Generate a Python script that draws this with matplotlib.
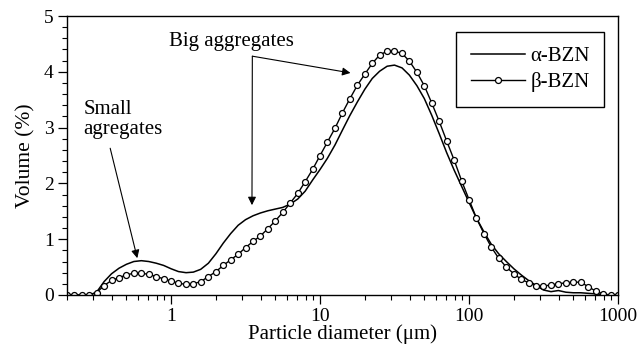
import matplotlib
matplotlib.use("Agg")
import matplotlib.pyplot as plt
from matplotlib.ticker import FixedLocator, MultipleLocator, LogLocator, NullFormatter

plt.rcParams['font.family'] = ['Liberation Serif', 'DejaVu Serif']
plt.rcParams['mathtext.fontset'] = 'stix'

# Particle diameter grid (um)
diameter = [0.200, 0.224, 0.251, 0.282, 0.316, 0.355, 0.398, 0.447, 0.501, 0.562,
            0.631, 0.708, 0.794, 0.891, 1.00, 1.12, 1.26, 1.41, 1.58, 1.78,
            2.00, 2.24, 2.51, 2.82, 3.16, 3.55, 3.98, 4.47, 5.01, 5.62,
            6.31, 7.08, 7.94, 8.91, 10.0, 11.2, 12.6, 14.1, 15.8, 17.8,
            20.0, 22.4, 25.1, 28.2, 31.6, 35.5, 39.8, 44.7, 50.1, 56.2,
            63.1, 70.8, 79.4, 89.1, 100, 112, 126, 141, 158, 178,
            200, 224, 251, 282, 316, 355, 398, 447, 501, 562,
            631, 708, 794, 891, 1000]

alpha_bzn = [0, 0, 0, 0, 0.05, 0.24, 0.38, 0.48, 0.55, 0.60,
             0.615, 0.60, 0.57, 0.53, 0.47, 0.42, 0.40, 0.41, 0.46, 0.57,
             0.74, 0.93, 1.10, 1.25, 1.35, 1.42, 1.47, 1.51, 1.54, 1.57,
             1.63, 1.72, 1.86, 2.06, 2.25, 2.45, 2.69, 2.95, 3.21, 3.46,
             3.69, 3.88, 4.01, 4.10, 4.12, 4.07, 3.94, 3.75, 3.52, 3.22,
             2.89, 2.55, 2.24, 1.95, 1.66, 1.38, 1.13, 0.91, 0.74, 0.60,
             0.47, 0.36, 0.26, 0.17, 0.09, 0.06, 0.08, 0.05, 0.04, 0.04,
             0.03, 0.02, 0.01, 0.0, 0.0]

beta_bzn = [0, 0, 0, 0, 0.04, 0.17, 0.26, 0.31, 0.36, 0.39,
            0.39, 0.37, 0.33, 0.29, 0.25, 0.21, 0.19, 0.20, 0.24, 0.33,
            0.42, 0.53, 0.63, 0.73, 0.85, 0.96, 1.06, 1.19, 1.33, 1.48,
            1.65, 1.82, 2.03, 2.25, 2.50, 2.74, 2.99, 3.26, 3.51, 3.76,
            3.96, 4.15, 4.30, 4.37, 4.37, 4.33, 4.19, 3.99, 3.75, 3.44,
            3.11, 2.76, 2.42, 2.05, 1.71, 1.38, 1.10, 0.86, 0.66, 0.50,
            0.38, 0.28, 0.22, 0.17, 0.16, 0.18, 0.20, 0.22, 0.23, 0.23,
            0.15, 0.07, 0.02, 0.0, 0.0]

x_ticks = [1, 10, 100, 1000]
x_tick_labels = ["1", "10", "100", "1000"]
y_ticks = [0, 1, 2, 3, 4, 5]

fig = plt.figure(figsize=(6.41, 3.48), dpi=100)
ax = fig.add_axes([0.1045, 0.1523, 0.8596, 0.8017])

ax.plot(diameter, alpha_bzn, color='black', lw=1.1, label='α-BZN')
ax.plot(diameter, beta_bzn, color='black', lw=1.0, marker='o', markersize=4.3,
        markerfacecolor='white', markeredgecolor='black', markeredgewidth=0.9,
        label='β-BZN')

ax.set_xscale('log')
ax.set_xlim(0.2, 1000)
ax.set_ylim(0, 5)
ax.xaxis.set_major_locator(FixedLocator(x_ticks))
ax.set_xticklabels(x_tick_labels)
ax.xaxis.set_minor_locator(LogLocator(base=10, subs=range(2, 10), numticks=20))
ax.xaxis.set_minor_formatter(NullFormatter())
ax.yaxis.set_major_locator(FixedLocator(y_ticks))
ax.yaxis.set_minor_locator(MultipleLocator(0.2))

ax.tick_params(axis='both', which='major', direction='out', length=6.5, width=0.9,
               labelsize=14, top=False, right=False, pad=3)
ax.tick_params(axis='both', which='minor', direction='out', length=3.5, width=0.8,
               top=False, right=False)
for s in ax.spines.values():
    s.set_linewidth(1.0)

ax.set_xlabel('Particle diameter (μm)', fontsize=15, labelpad=-1)
ax.set_ylabel('Volume (%)', fontsize=15.5, labelpad=6)

leg = ax.legend(loc='upper right', bbox_to_anchor=(0.975, 0.943), fontsize=15,
                frameon=True, fancybox=False, edgecolor='black', framealpha=1,
                handlelength=2.6, numpoints=1, borderpad=0.7, labelspacing=0.3,
                handletextpad=0.25, borderaxespad=0)
leg.get_frame().set_linewidth(1.0)

arrow_kw = dict(arrowstyle='-|>', color='black', lw=0.8, mutation_scale=12,
                shrinkA=0, shrinkB=0)

ax.text(0.257, 3.14, 'Small\nagregates', fontsize=15, ha='left', va='center',
        linespacing=1.1)
ax.annotate('', xy=(0.593, 0.66), xytext=(0.39, 2.63), arrowprops=arrow_kw)

ax.text(2.54, 4.55, 'Big aggregates', fontsize=15, ha='center', va='center')
ax.annotate('', xy=(16.0, 3.98), xytext=(3.51, 4.28), arrowprops=arrow_kw)
ax.annotate('', xy=(3.49, 1.61), xytext=(3.51, 4.28), arrowprops=arrow_kw)

fig.savefig('out.png', dpi=100)
